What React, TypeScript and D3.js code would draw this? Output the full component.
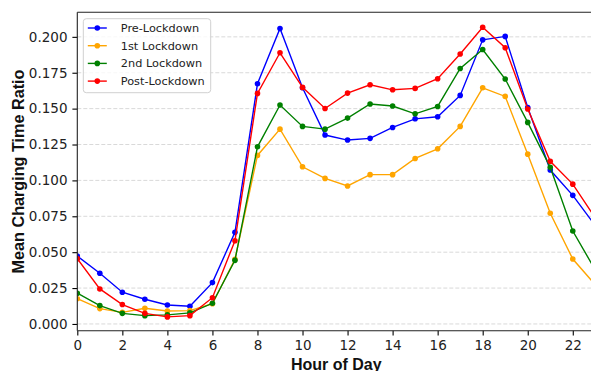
import React, { useEffect, useRef } from "react";
import * as d3 from "d3";

const hours = [0, 1, 2, 3, 4, 5, 6, 7, 8, 9, 10, 11, 12, 13, 14, 15, 16, 17, 18, 19, 20, 21, 22, 23];

const preLockdown = [0.0473, 0.0353, 0.0221, 0.0172, 0.0132, 0.0123, 0.0288, 0.0638, 0.1673, 0.2058, 0.1645, 0.1316, 0.1281, 0.1293, 0.1369, 0.1429, 0.1443, 0.1592, 0.1979, 0.2003, 0.1508, 0.1072, 0.0896, 0.0685];
const firstLockdown = [0.0176, 0.0107, 0.0081, 0.0109, 0.009, 0.0093, 0.0141, 0.045, 0.1174, 0.1357, 0.1095, 0.1014, 0.0961, 0.104, 0.104, 0.1153, 0.122, 0.1376, 0.1645, 0.1585, 0.1183, 0.0771, 0.0452, 0.0273];
const secondLockdown = [0.0214, 0.0128, 0.0074, 0.0058, 0.0063, 0.0077, 0.0144, 0.0443, 0.1234, 0.1525, 0.1376, 0.1357, 0.1434, 0.1532, 0.1518, 0.1464, 0.1515, 0.178, 0.1912, 0.1706, 0.1404, 0.1091, 0.0647, 0.0376];
const postLockdown = [0.0455, 0.0244, 0.0135, 0.0074, 0.0049, 0.0058, 0.0183, 0.058, 0.1606, 0.1889, 0.1648, 0.1501, 0.1608, 0.1666, 0.1631, 0.1641, 0.1708, 0.188, 0.2067, 0.1924, 0.1497, 0.1133, 0.0974, 0.0738];

const seriesNames = ["Pre-Lockdown", "1st Lockdown", "2nd Lockdown", "Post-Lockdown"];
const seriesColors = ["#0000ff", "#ffa500", "#008000", "#ff0000"];
const yTicks = [0, 0.025, 0.05, 0.075, 0.1, 0.125, 0.15, 0.175, 0.2];
const xTicks = [0, 2, 4, 6, 8, 10, 12, 14, 16, 18, 20, 22];

const FONT = "DejaVu Sans, Liberation Sans, sans-serif";
const TITLE_FONT = "Liberation Sans, Arial, sans-serif";

const App: React.FC = () => {
  const svgRef = useRef<SVGSVGElement>(null);

  useEffect(() => {
    if (!svgRef.current) return;
    const width = 591;
    const height = 371;
    const plot = { left: 77.3, right: 595.3, top: 12.3, bottom: 330.7 };

    const svg = d3.select(svgRef.current);
    svg.selectAll("*").remove();
    svg.attr("width", width).attr("height", height);

    const x = d3.scaleLinear().domain([0, 23]).range([plot.left, plot.right]);
    const y = d3.scaleLinear().domain([-0.0047, 0.2171]).range([plot.bottom, plot.top]);

    svg
      .append("defs")
      .append("clipPath")
      .attr("id", "plot-clip")
      .append("rect")
      .attr("x", plot.left)
      .attr("y", plot.top)
      .attr("width", plot.right - plot.left)
      .attr("height", plot.bottom - plot.top);

    // horizontal dashed grid
    svg
      .append("g")
      .selectAll("line")
      .data(yTicks)
      .enter()
      .append("line")
      .attr("x1", plot.left)
      .attr("x2", plot.right)
      .attr("y1", (d) => y(d))
      .attr("y2", (d) => y(d))
      .attr("stroke", "#d9d9d9")
      .attr("stroke-width", 1)
      .attr("stroke-dasharray", "4,2");

    const data = [preLockdown, firstLockdown, secondLockdown, postLockdown];
    const line = d3
      .line<number>()
      .x((_, i) => x(hours[i]))
      .y((d) => y(d));

    const lines = svg.append("g").attr("clip-path", "url(#plot-clip)");
    data.forEach((values, s) => {
      lines
        .append("path")
        .datum(values)
        .attr("d", line)
        .attr("fill", "none")
        .attr("stroke", seriesColors[s])
        .attr("stroke-width", 1.4);
      lines
        .selectAll(null)
        .data(values)
        .enter()
        .append("circle")
        .attr("cx", (_, i) => x(hours[i]))
        .attr("cy", (d) => y(d))
        .attr("r", 2.8)
        .attr("fill", seriesColors[s]);
    });

    // axes
    const yAxis = svg
      .append("g")
      .attr("transform", `translate(${plot.left},0)`)
      .call(
        d3
          .axisLeft(y)
          .tickValues(yTicks)
          .tickFormat(d3.format(".3f"))
          .tickSize(4.9)
          .tickPadding(4.9)
      );
    const xAxis = svg
      .append("g")
      .attr("transform", `translate(0,${plot.bottom})`)
      .call(d3.axisBottom(x).tickValues(xTicks).tickSize(4.9).tickPadding(4.9));

    [xAxis, yAxis].forEach((g) => {
      g.select(".domain").remove();
      g.selectAll(".tick line").attr("stroke", "#000").attr("stroke-width", 1.1);
      g.selectAll(".tick text")
        .attr("font-family", FONT)
        .attr("font-size", 13.5)
        .attr("fill", "#222");
    });

    // spines (left, bottom, top)
    const spines = svg.append("g").attr("stroke", "#222").attr("stroke-width", 1.1);
    spines.append("line").attr("x1", plot.left).attr("x2", plot.left).attr("y1", plot.top).attr("y2", plot.bottom);
    spines.append("line").attr("x1", plot.left).attr("x2", plot.right).attr("y1", plot.bottom).attr("y2", plot.bottom);
    spines.append("line").attr("x1", plot.left).attr("x2", plot.right).attr("y1", plot.top).attr("y2", plot.top);

    // axis titles
    svg
      .append("text")
      .attr("transform", `translate(24,${(plot.top + plot.bottom) / 2}) rotate(-90)`)
      .attr("text-anchor", "middle")
      .attr("font-family", TITLE_FONT)
      .attr("font-weight", "bold")
      .attr("font-size", 16.2)
      .attr("fill", "#111")
      .text("Mean Charging Time Ratio");
    svg
      .append("text")
      .attr("x", (plot.left + plot.right) / 2)
      .attr("y", 369.5)
      .attr("text-anchor", "middle")
      .attr("font-family", TITLE_FONT)
      .attr("font-weight", "bold")
      .attr("font-size", 16)
      .attr("fill", "#111")
      .text("Hour of Day");

    // legend
    const legend = svg.append("g").attr("transform", "translate(83.3,18.7)");
    legend
      .append("rect")
      .attr("width", 127.4)
      .attr("height", 74)
      .attr("rx", 3)
      .attr("fill", "#fff")
      .attr("fill-opacity", 0.8)
      .attr("stroke", "#d0d0d0")
      .attr("stroke-width", 1);
    seriesNames.forEach((name, i) => {
      const row = legend.append("g").attr("transform", `translate(0,${9.3 + i * 17.7})`);
      row
        .append("line")
        .attr("x1", 4.5)
        .attr("x2", 23.5)
        .attr("stroke", seriesColors[i])
        .attr("stroke-width", 1.4);
      row.append("circle").attr("cx", 14).attr("r", 2.8).attr("fill", seriesColors[i]);
      row
        .append("text")
        .attr("x", 37.5)
        .attr("dy", "0.35em")
        .attr("font-family", FONT)
        .attr("font-size", 11.3)
        .attr("fill", "#222")
        .text(name);
    });
  }, []);

  return <svg ref={svgRef} style={{ position: "absolute", left: 0, top: 0, display: "block" }} />;
};

export default App;
